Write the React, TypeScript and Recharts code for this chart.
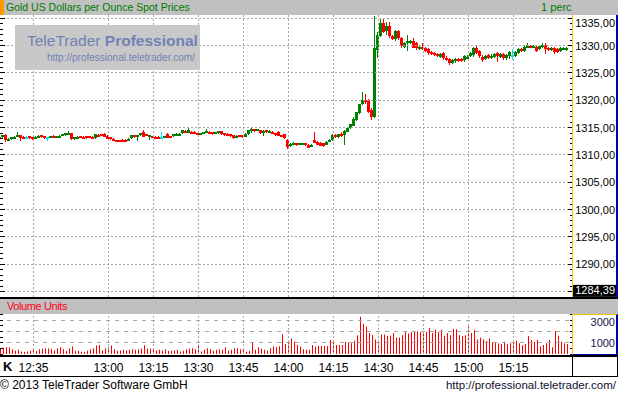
import React from "react";
import { ComposedChart, Bar, XAxis, YAxis, ReferenceLine } from "recharts";

// minute bars, first bar 12:24
const startMinute = 12 * 60 + 24;

const opens = [
  1313.0, 1313.3, 1313.6, 1312.8, 1312.95, 1313.1, 1313.3, 1313.6, 1313.3, 1313.2,
  1313.4, 1313.2, 1313.0, 1313.3, 1313.6, 1313.4, 1313.2, 1313.2, 1313.5, 1313.2,
  1313.3, 1313.55, 1313.7, 1313.9, 1314.0, 1312.95, 1313.1, 1313.4, 1313.3, 1313.4,
  1313.4, 1313.3, 1313.0, 1313.7, 1313.8, 1313.9, 1313.55, 1313.2, 1313.0, 1312.7,
  1312.75, 1312.7, 1312.8, 1312.7, 1313.0, 1313.6, 1313.2, 1313.6, 1314.2, 1313.8,
  1313.3, 1313.4, 1313.3, 1313.3, 1313.3, 1313.2, 1313.9, 1313.4, 1313.4, 1313.7,
  1313.8, 1313.9, 1314.4, 1314.0, 1314.2, 1314.2, 1314.0, 1313.8, 1313.9, 1314.0,
  1314.2, 1314.15, 1313.9, 1314.0, 1314.3, 1314.0, 1313.9, 1313.8, 1313.6, 1313.3,
  1313.6, 1313.6, 1313.3, 1313.8, 1314.2, 1314.65, 1314.4, 1314.5, 1314.0, 1314.5,
  1314.2, 1314.2, 1314.0, 1314.2, 1313.6, 1313.8, 1312.8, 1311.6, 1311.8, 1312.1,
  1311.9, 1311.9, 1312.1, 1311.9, 1311.6, 1312.7, 1312.4, 1312.2, 1312.1, 1311.9,
  1312.4, 1312.7, 1313.6, 1313.2, 1313.8, 1313.6, 1314.2, 1314.9, 1315.4, 1316.4,
  1317.7, 1319.3, 1320.0, 1320.0, 1318.3, 1317.0, 1329.3, 1331.7, 1334.1, 1332.6,
  1333.6, 1331.7, 1331.2, 1332.6, 1331.3, 1329.8, 1330.4, 1330.5, 1330.9, 1330.4,
  1329.4, 1329.8, 1329.6, 1329.4, 1328.8, 1328.6, 1328.4, 1328.0, 1328.6, 1327.8,
  1327.6, 1326.9, 1327.2, 1327.6, 1327.5, 1327.3, 1327.7, 1328.0, 1328.3, 1329.6,
  1329.0, 1328.0, 1327.5, 1328.3, 1327.7, 1328.0, 1328.6, 1328.0, 1328.5, 1327.7,
  1328.0, 1328.3, 1328.1, 1328.6, 1329.3, 1329.1, 1329.6, 1330.0, 1329.8, 1329.8,
  1329.4, 1329.8, 1330.2, 1329.6, 1329.3, 1329.6, 1329.3, 1329.1, 1329.4, 1329.3,
];

const highs = [
  1313.5, 1313.7, 1313.9, 1313.1, 1313.3, 1313.4, 1314.2, 1313.7, 1313.4, 1313.4,
  1313.5, 1313.3, 1313.4, 1313.6, 1313.7, 1313.5, 1313.3, 1313.5, 1313.6, 1313.5,
  1313.6, 1313.9, 1314.1, 1314.3, 1314.1, 1313.3, 1313.4, 1313.5, 1313.4, 1313.5,
  1313.5, 1313.4, 1313.9, 1313.8, 1313.9, 1314.0, 1313.7, 1313.3, 1313.1, 1312.8,
  1312.8, 1312.9, 1312.9, 1313.1, 1313.7, 1313.7, 1313.7, 1314.1, 1314.5, 1313.9,
  1313.7, 1313.5, 1313.4, 1313.4, 1314.2, 1313.5, 1314.0, 1313.5, 1313.9, 1314.0,
  1314.0, 1314.6, 1314.5, 1314.9, 1314.3, 1314.3, 1314.1, 1314.1, 1314.2, 1314.65,
  1314.3, 1314.2, 1314.2, 1314.4, 1314.4, 1314.1, 1314.0, 1313.9, 1313.7, 1313.6,
  1313.7, 1313.7, 1314.0, 1314.6, 1315.0, 1314.7, 1314.7, 1314.6, 1314.5, 1314.6,
  1314.5, 1314.3, 1314.1, 1314.3, 1313.7, 1313.9, 1312.9, 1312.1, 1312.3, 1312.2,
  1312.2, 1312.2, 1312.2, 1312.0, 1312.0, 1314.2, 1312.5, 1312.3, 1312.2, 1312.5,
  1312.9, 1313.9, 1313.9, 1313.9, 1314.2, 1314.5, 1315.1, 1315.7, 1316.9, 1317.9,
  1319.4, 1321.5, 1321.1, 1320.2, 1318.5, 1335.4, 1332.5, 1334.8, 1334.8, 1334.3,
  1334.4, 1331.9, 1332.8, 1332.9, 1331.5, 1330.7, 1331.9, 1331.1, 1331.3, 1330.6,
  1329.9, 1330.5, 1329.8, 1329.6, 1329.0, 1328.8, 1328.6, 1328.7, 1328.8, 1328.1,
  1327.8, 1327.6, 1327.8, 1327.8, 1327.7, 1328.3, 1328.2, 1328.8, 1329.8, 1329.9,
  1329.2, 1328.2, 1328.3, 1328.5, 1328.4, 1328.7, 1328.8, 1328.7, 1328.7, 1328.5,
  1329.0, 1329.3, 1329.0, 1329.5, 1329.5, 1330.0, 1330.4, 1330.2, 1330.2, 1330.0,
  1330.1, 1330.5, 1330.4, 1329.8, 1329.8, 1329.8, 1329.5, 1329.8, 1329.8, 1329.8,
];

const lows = [
  1312.9, 1313.1, 1312.4, 1312.6, 1312.8, 1313.0, 1313.2, 1312.6, 1313.1, 1313.0,
  1312.9, 1312.8, 1312.9, 1313.2, 1313.2, 1312.9, 1312.6, 1313.1, 1313.1, 1313.1,
  1313.2, 1313.5, 1313.6, 1313.8, 1312.9, 1312.8, 1313.0, 1313.1, 1313.1, 1313.0,
  1313.1, 1312.9, 1312.9, 1313.3, 1313.5, 1313.3, 1312.9, 1312.7, 1312.5, 1312.5,
  1312.6, 1312.5, 1312.3, 1312.6, 1312.9, 1313.1, 1312.6, 1313.5, 1313.2, 1313.5,
  1312.8, 1313.1, 1313.1, 1312.9, 1313.1, 1313.1, 1313.1, 1313.1, 1313.3, 1313.6,
  1313.7, 1313.8, 1313.9, 1313.9, 1313.9, 1313.7, 1313.7, 1313.7, 1313.8, 1313.9,
  1313.8, 1313.7, 1313.8, 1313.9, 1313.7, 1313.6, 1313.5, 1313.3, 1312.9, 1313.2,
  1313.4, 1313.2, 1313.2, 1313.7, 1314.1, 1314.1, 1314.3, 1313.9, 1313.4, 1314.1,
  1314.1, 1313.7, 1313.5, 1313.3, 1313.3, 1312.9, 1311.0, 1311.4, 1311.7, 1311.7,
  1311.8, 1311.8, 1311.6, 1311.3, 1311.5, 1312.1, 1311.8, 1311.5, 1311.5, 1311.8,
  1312.3, 1312.6, 1313.2, 1313.1, 1313.2, 1311.8, 1314.1, 1314.8, 1315.3, 1316.3,
  1317.6, 1319.1, 1319.3, 1317.6, 1316.3, 1316.8, 1327.8, 1331.5, 1332.2, 1332.0,
  1331.5, 1330.9, 1330.8, 1331.1, 1329.4, 1329.6, 1329.0, 1330.3, 1329.4, 1329.2,
  1329.2, 1329.2, 1328.8, 1328.4, 1328.2, 1328.0, 1327.8, 1327.8, 1327.4, 1327.2,
  1326.5, 1326.6, 1326.9, 1327.1, 1327.0, 1327.1, 1327.5, 1327.8, 1328.0, 1328.4,
  1327.8, 1326.9, 1327.3, 1327.5, 1327.5, 1327.8, 1326.9, 1327.8, 1327.5, 1327.4,
  1327.6, 1327.3, 1327.9, 1328.4, 1328.8, 1328.9, 1329.4, 1329.6, 1329.6, 1328.9,
  1329.2, 1329.6, 1328.3, 1329.1, 1329.1, 1328.6, 1328.6, 1328.9, 1329.2, 1329.1,
];

const closes = [
  1313.3, 1313.6, 1312.6, 1313.0, 1313.2, 1313.3, 1313.6, 1313.0, 1313.2, 1313.2,
  1313.0, 1312.95, 1313.3, 1313.55, 1313.3, 1313.0, 1313.2, 1313.4, 1313.2, 1313.4,
  1313.5, 1313.8, 1314.0, 1314.1, 1312.95, 1313.2, 1313.3, 1313.2, 1313.2, 1313.1,
  1313.2, 1313.0, 1313.8, 1313.4, 1313.55, 1313.4, 1313.0, 1312.8, 1312.6, 1312.6,
  1312.7, 1312.6, 1312.6, 1313.0, 1313.6, 1313.2, 1313.6, 1314.0, 1313.3, 1313.6,
  1313.6, 1313.2, 1313.2, 1313.0, 1313.3, 1313.4, 1313.2, 1313.2, 1313.8, 1313.9,
  1313.9, 1314.5, 1314.0, 1314.5, 1314.0, 1313.8, 1313.8, 1314.0, 1314.15, 1314.4,
  1313.9, 1313.8, 1314.15, 1314.3, 1313.8, 1313.7, 1313.6, 1313.4, 1313.0, 1313.55,
  1313.45, 1313.3, 1313.9, 1314.5, 1314.65, 1314.2, 1314.65, 1314.0, 1314.4, 1314.2,
  1314.4, 1313.8, 1313.6, 1313.4, 1313.4, 1313.0, 1311.5, 1312.0, 1312.2, 1311.8,
  1312.1, 1312.1, 1311.75, 1311.4, 1311.9, 1312.2, 1311.9, 1311.6, 1311.6, 1312.4,
  1312.8, 1313.6, 1313.3, 1313.8, 1313.6, 1314.4, 1315.0, 1315.6, 1316.6, 1317.8,
  1319.3, 1320.0, 1319.6, 1317.8, 1317.0, 1329.6, 1332.0, 1334.1, 1332.4, 1333.6,
  1331.7, 1331.1, 1332.6, 1331.3, 1329.8, 1330.5, 1330.8, 1330.9, 1329.6, 1329.4,
  1329.7, 1329.4, 1329.0, 1328.6, 1328.4, 1328.2, 1328.0, 1328.5, 1327.6, 1327.4,
  1326.8, 1327.4, 1327.6, 1327.3, 1327.3, 1328.1, 1328.0, 1328.6, 1329.6, 1328.6,
  1328.0, 1327.5, 1328.1, 1327.7, 1328.1, 1328.5, 1328.1, 1328.5, 1327.7, 1328.3,
  1328.8, 1328.3, 1328.8, 1329.3, 1329.0, 1329.8, 1330.2, 1329.8, 1330.0, 1329.1,
  1329.9, 1330.2, 1329.4, 1329.3, 1329.6, 1328.8, 1328.8, 1329.6, 1329.6, 1329.6,
];

const volumes = [
  450, 550, 610, 610, 435, 320, 377, 230, 200, 230,
  290, 435, 260, 435, 465, 520, 490, 435, 320, 520,
  610, 435, 260, 520, 665, 290, 290, 200, 200, 290,
  435, 520, 750, 810, 320, 520, 610, 750, 435, 290,
  320, 377, 320, 377, 435, 377, 435, 490, 780, 460,
  490, 377, 320, 377, 320, 435, 260, 290, 320, 377,
  230, 290, 435, 490, 520, 435, 900, 230, 377, 520,
  435, 290, 377, 435, 377, 610, 320, 377, 520, 490,
  435, 377, 200, 290, 1000, 377, 610, 490, 377, 320,
  520, 665, 610, 700, 1770, 900, 1160, 1390, 1100, 810,
  665, 435, 377, 377, 810, 665, 720, 720, 720, 720,
  1250, 1250, 810, 810, 810, 1100, 1020, 960, 1190, 1680,
  3335, 2700, 2465, 1885, 1680, 1300, 957, 1740, 1740, 1600,
  1625, 1885, 1480, 1480, 1680, 2030, 1830, 1970, 2030, 2030,
  1970, 1910, 1970, 2320, 1885, 2175, 1970, 2175, 1625, 1885,
  1680, 2260, 2200, 1680, 1600, 1680, 2465, 1885, 2175, 1300,
  1450, 1300, 1160, 1390, 1040, 1070, 960, 900, 1100, 870,
  960, 1250, 1190, 960, 780, 900, 1600, 1250, 1100, 1250,
  665, 810, 960, 1250, 610, 2060, 1625, 1100, 960, 900,
];

const timeTicks = ["12:35", "13:00", "13:15", "13:30", "13:45", "14:00", "14:15", "14:30", "14:45", "15:00", "15:15"];
const priceGrid = [1285, 1290, 1295, 1300, 1305, 1310, 1315, 1320, 1325, 1330, 1335];
const priceLabels = [1290, 1295, 1300, 1305, 1310, 1315, 1320, 1325, 1330, 1335];
const lastPrice = 1284.39;
const volumeTicks = [0, 500, 1000, 1500, 2000, 2500, 3000, 3500];
const volumeGrid = [1000, 2000, 3000];
const volumeLabels = [1000, 3000];

const GREEN = "#008000";
const RED = "#ff0000";
const CYAN = "#00e5f0";
const GRID = "#a8a8a8";
const FONT = "'Liberation Sans', Arial, sans-serif";

const hhmm = (m: number) => `${Math.floor(m / 60)}:${String(m % 60).padStart(2, "0")}`;
const comma = (v: number) => v.toFixed(2).replace(".", ",");

const data = closes.map((c, i) => ({
  time: hhmm(startMinute + i),
  open: opens[i],
  high: highs[i],
  low: lows[i],
  close: c,
  range: [lows[i], highs[i]],
  vol: volumes[i],
}));

// minor ticks every unit on the price scale
const priceTicks: number[] = [lastPrice];
for (let v = 1285; v <= 1335; v++) priceTicks.push(v);

const Candle = (props: any) => {
  const { x, y, width, height, payload } = props;
  const { open, close, high, low } = payload;
  const top = Math.min(y, y + height);
  const h = Math.abs(height);
  const k = h / (high - low);
  const yO = top + (high - open) * k;
  const yC = top + (high - close) * k;
  const color = close > open ? GREEN : close < open ? RED : CYAN;
  const cx = Math.round(x + width / 2);
  const bTop = Math.round(Math.min(yO, yC));
  const bH = Math.max(2, Math.round(Math.abs(yC - yO)));
  return (
    <g shapeRendering="crispEdges">
      <rect x={cx - 1} y={Math.round(top)} width={1} height={Math.max(1, Math.round(h))} fill={color} />
      <rect x={cx - 2} y={bTop} width={3} height={bH} fill={color} />
    </g>
  );
};

const PriceTick = (props: any) => {
  const { x, y, payload } = props;
  const v = payload.value;
  if (v === lastPrice) {
    return (
      <g>
        <rect x={x + 4} y={y - 10} width={43} height={12} fill="#000" />
        <text x={x + 46} y={y - 0.5} textAnchor="end" fill="#fff" fontSize={11} fontFamily={FONT}>
          {comma(v)}
        </text>
      </g>
    );
  }
  const major = v % 5 === 0;
  const ly = Math.max(y, 7.8);
  return (
    <g shapeRendering="crispEdges">
      <line x1={major ? x - 1 : x + 1} x2={x + 3} y1={y} y2={y} stroke="#000" />
      <line x1={1} x2={major ? 6 : 4} y1={y} y2={y} stroke="#000" />
      {priceLabels.includes(v) && (
        <text x={x + 46} y={ly + 4} textAnchor="end" fill="#000" fontSize={11} fontFamily={FONT}>
          {comma(v)}
        </text>
      )}
    </g>
  );
};

const VolumeTick = (props: any) => {
  const { x, y, payload } = props;
  const v = payload.value;
  const ly = Math.max(y, 7.7);
  return (
    <g shapeRendering="crispEdges">
      <line x1={x + 1} x2={x + 3} y1={y} y2={y} stroke="#000" />
      <line x1={1} x2={4} y1={y} y2={y} stroke="#000" />
      {volumeLabels.includes(v) && (
        <text x={x + 46} y={ly + 4} textAnchor="end" fill="#16164a" fontSize={11} fontFamily={FONT}>
          {v}
        </text>
      )}
    </g>
  );
};

const TimeTick = (props: any) => {
  const { x, payload } = props;
  return (
    <text x={x} y={58} textAnchor="middle" fill="#000" fontSize={12} fontFamily={FONT}>
      {payload.value}
    </text>
  );
};

const abs = (l: number, t: number, w: number, h: number, extra: React.CSSProperties = {}): React.CSSProperties => ({
  position: "absolute",
  left: l,
  top: t,
  width: w,
  height: h,
  boxSizing: "border-box",
  ...extra,
});

export default function App() {
  return (
    <div style={abs(0, 0, 618, 394, { overflow: "hidden", background: "#fff", fontFamily: FONT })}>
      {/* header */}
      <div style={abs(0, 0, 618, 15, { background: "#c0c0c0" })} />
      <div style={abs(0, 0, 4, 15, { background: "#ff9900" })} />
      <div style={abs(6, 0, 300, 15, { color: "#007a00", fontSize: 10.5, lineHeight: "15px", whiteSpace: "nowrap" })}>
        Gold US Dollars per Ounce Spot Prices
      </div>
      <div style={abs(541, 0, 40, 15, { color: "#007a00", fontSize: 11, lineHeight: "15px", whiteSpace: "nowrap" })}>1 perc</div>

      {/* price axis box */}
      <div style={abs(572, 15, 46, 282, { background: "#fff", borderLeft: "1px solid #f5c400", borderRight: "2px solid #0000b0" })} />

      <div style={abs(-1, 15, 620, 282)}>
        <ComposedChart width={620} height={282} data={data} margin={{ top: 0, right: 0, bottom: 0, left: 0 }}>
          <XAxis dataKey="time" hide />
          <YAxis
            orientation="right"
            width={50}
            type="number"
            domain={[1284, 1335.6]}
            allowDataOverflow
            ticks={priceTicks}
            interval={0}
            tick={PriceTick}
            tickLine={false}
            axisLine={false}
            tickSize={0}
            tickMargin={0}
          />
          {priceGrid.map((v) => (
            <ReferenceLine key={"p" + v} y={v} stroke={GRID} strokeDasharray="2 2" shapeRendering="crispEdges" />
          ))}
          {timeTicks.map((t) => (
            <ReferenceLine key={"t" + t} x={t} stroke={GRID} strokeDasharray="2 2" shapeRendering="crispEdges" />
          ))}
          <Bar dataKey="range" barSize={3} shape={Candle} isAnimationActive={false} />
        </ComposedChart>
      </div>

      {/* watermark */}
      <div style={abs(15, 25, 185, 45, { background: "#c8c8c8" })} />
      <div style={abs(27, 31, 175, 20, { color: "#7282b4", fontSize: 15.5, lineHeight: "20px", whiteSpace: "nowrap" })}>
        TeleTrader <b>Professional</b>
      </div>
      <div style={abs(47, 51, 160, 13, { color: "#7282b4", fontSize: 10, lineHeight: "13px", whiteSpace: "nowrap" })}>
        http://professional.teletrader.com/
      </div>

      {/* volume pane */}
      <div style={abs(0, 297, 618, 2, { background: "#000" })} />
      <div style={abs(0, 299, 618, 15, { background: "#c0c0c0" })} />
      <div style={abs(7, 299, 200, 15, { color: "#ff0020", fontSize: 11, lineHeight: "15px", letterSpacing: -0.4, whiteSpace: "nowrap" })}>
        Volume Units
      </div>
      <div
        style={abs(572, 314, 46, 41, {
          background: "#fff",
          borderLeft: "1px solid #f5c400",
          borderTop: "1px solid #f5c400",
          borderRight: "2px solid #0000b0",
          borderBottom: "1px solid #0000b0",
        })}
      />
      <div style={abs(0, 355, 618, 2, { background: "#000" })} />
      <div style={abs(572, 357, 46, 20, { borderLeft: "1px solid #000", borderRight: "1px solid #000" })} />
      <div style={abs(0, 376, 618, 1, { background: "#000" })} />

      <div style={abs(-1, 314, 620, 62)}>
        <ComposedChart width={620} height={62} data={data} margin={{ top: 0, right: 0, bottom: 0, left: 0 }}>
          <XAxis
            dataKey="time"
            height={22}
            ticks={timeTicks}
            interval={0}
            tick={TimeTick}
            tickLine={false}
            axisLine={false}
            tickSize={0}
            tickMargin={0}
          />
          <YAxis
            orientation="right"
            width={50}
            type="number"
            domain={[0, 3570]}
            allowDataOverflow
            ticks={volumeTicks}
            interval={0}
            tick={VolumeTick}
            tickLine={false}
            axisLine={false}
            tickSize={0}
            tickMargin={0}
          />
          {volumeGrid.map((v) => (
            <ReferenceLine key={"v" + v} y={v} stroke={GRID} strokeDasharray="4 5" shapeRendering="crispEdges" />
          ))}
          {timeTicks.map((t) => (
            <ReferenceLine key={"vt" + t} x={t} stroke={GRID} strokeDasharray="2 2" shapeRendering="crispEdges" />
          ))}
          <Bar dataKey="vol" barSize={1} fill={RED} isAnimationActive={false} />
        </ComposedChart>
      </div>
      <div style={abs(3, 358, 20, 18, { fontSize: 13, fontWeight: "bold", lineHeight: "18px" })}>K</div>

      {/* footer */}
      <div style={abs(0, 377, 300, 17, { fontSize: 12, lineHeight: "17px", whiteSpace: "nowrap", color: "#000" })}>
        © 2013 TeleTrader Software GmbH
      </div>
      <div style={abs(400, 377, 216, 17, { fontSize: 11.5, lineHeight: "17px", whiteSpace: "nowrap", color: "#101030", textAlign: "right" })}>
        http://professional.teletrader.com/
      </div>
    </div>
  );
}
